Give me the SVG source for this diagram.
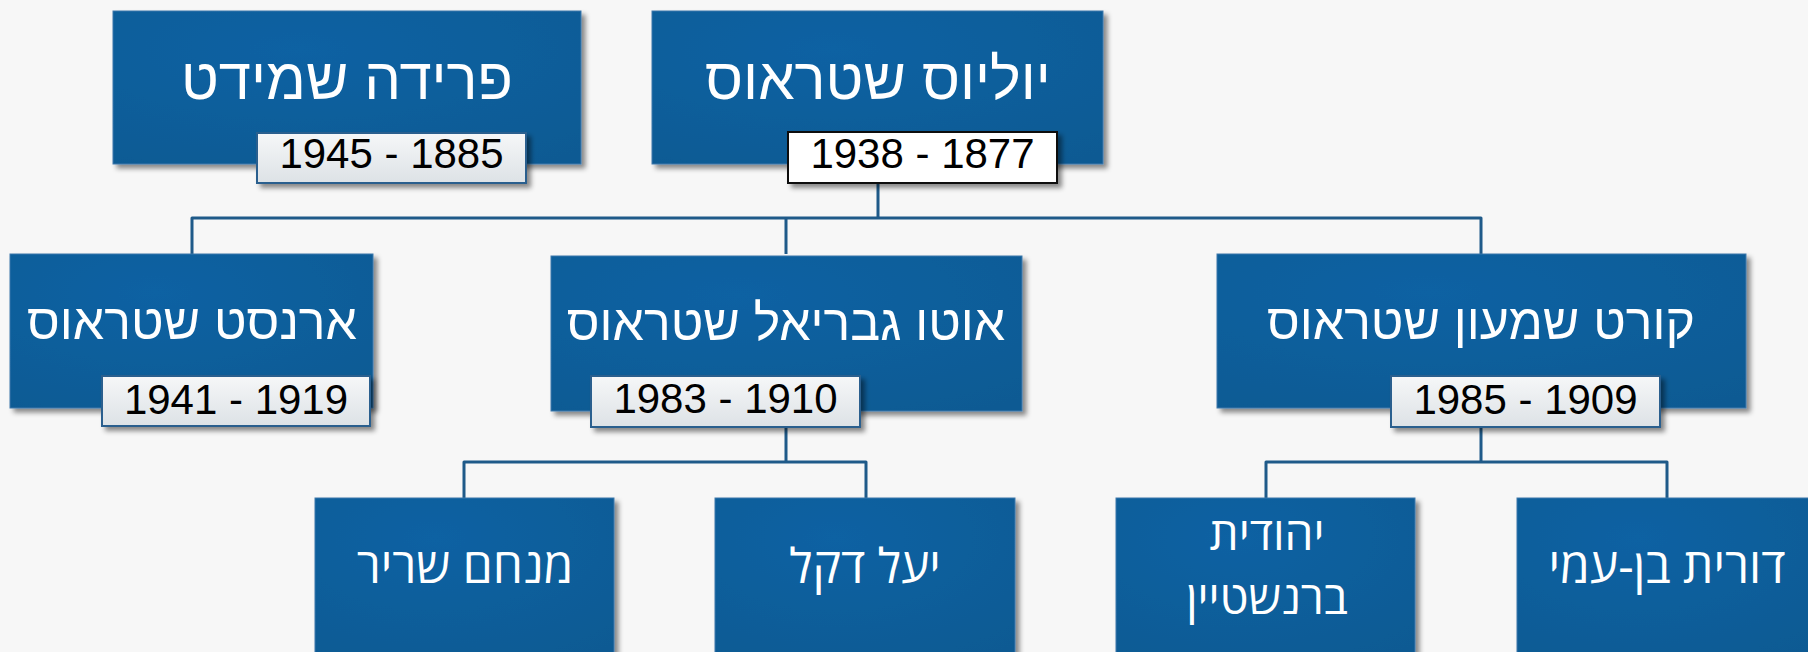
<svg xmlns="http://www.w3.org/2000/svg" width="1808" height="652" viewBox="0 0 1808 652">
  <defs>
    <radialGradient id="boxFill" cx="0.4" cy="0.25" r="0.9">
      <stop offset="0" stop-color="#0b62a3"/>
      <stop offset="1" stop-color="#0f5a93"/>
    </radialGradient>
    <linearGradient id="dateFill" x1="0" y1="0" x2="0" y2="1">
      <stop offset="0" stop-color="#f6f7f8"/>
      <stop offset="1" stop-color="#dde2e6"/>
    </linearGradient>
    <filter id="shadow" x="-10%" y="-10%" width="125%" height="135%">
      <feDropShadow dx="4" dy="4" stdDeviation="2.5" flood-color="#000" flood-opacity="0.45"/>
    </filter>
    <style>
      .box { fill: url(#boxFill); stroke: #3c78ab; stroke-width: 1; filter: url(#shadow); }
      .date { fill: url(#dateFill); stroke: #2b5f8e; stroke-width: 2; filter: url(#shadow); }
      .date-root { fill: #ffffff; stroke: #111111; stroke-width: 2; filter: url(#shadow); }
      .name { font-family: "Liberation Sans", Arial, sans-serif; font-size: 58px; fill: #ffffff; text-anchor: middle; direction: rtl; }
      .name-mid { font-family: "Liberation Sans", Arial, sans-serif; font-size: 50px; fill: #ffffff; text-anchor: middle; direction: rtl; }
      .name2 { font-family: "Open Sans", "Noto Sans", "DejaVu Sans", sans-serif; font-size: 48px; fill: #ffffff; text-anchor: middle; direction: rtl; }
      .two-line { font-size: 46px; }
      .years { font-family: "Liberation Sans", Arial, sans-serif; font-size: 42px; fill: #000000; text-anchor: middle; }
      .link { fill: none; stroke: #1f5a89; stroke-width: 3; stroke-linejoin: round; }
    </style>
  </defs>

  <rect width="1808" height="652" fill="#f7f7f7"/>

  <!-- connectors -->
  <g id="connectors">
    <path class="link" d="M878 183 V218 M192 254 V218 H1481 V254 M786 218 V254"/>
    <path class="link" d="M786 427 V462 M464 498 V462 H866 V498"/>
    <path class="link" d="M1481 427 V462 M1266 498 V462 H1667 V498"/>
  </g>

  <!-- generation 1 -->
  <g id="frieda">
    <rect class="box" x="113" y="11" width="468" height="153"/>
    <text class="name" x="347" y="99">פרידה שמידט</text>
    <rect class="date" x="257" y="133" width="269" height="50"/>
    <text class="years" x="391.5" y="168">1945 - 1885</text>
  </g>
  <g id="julius">
    <rect class="box" x="652" y="11" width="451" height="153"/>
    <text class="name" x="878" y="99">יוליוס שטראוס</text>
    <rect class="date-root" x="788" y="132" width="269" height="51"/>
    <text class="years" x="922.5" y="168">1938 - 1877</text>
  </g>

  <!-- generation 2 -->
  <g id="ernst">
    <rect class="box" x="10" y="254" width="363" height="154"/>
    <text class="name-mid" x="192" y="339">ארנסט שטראוס</text>
    <rect class="date" x="102" y="376" width="268" height="50"/>
    <text class="years" x="236" y="414">1941 - 1919</text>
  </g>
  <g id="otto">
    <rect class="box" x="551" y="256" width="471" height="155"/>
    <text class="name-mid" x="786" y="340">אוטו גבריאל שטראוס</text>
    <rect class="date" x="591" y="376" width="269" height="51"/>
    <text class="years" x="725.5" y="413">1983 - 1910</text>
  </g>
  <g id="kurt">
    <rect class="box" x="1217" y="254" width="529" height="154"/>
    <text class="name-mid" x="1481" y="339">קורט שמעון שטראוס</text>
    <rect class="date" x="1391" y="376" width="269" height="51"/>
    <text class="years" x="1525.5" y="414">1985 - 1909</text>
  </g>

  <!-- generation 3 -->
  <g id="menachem">
    <rect class="box" x="315" y="498" width="299" height="160"/>
    <text class="name2" x="465" y="583">מנחם שריר</text>
  </g>
  <g id="yael">
    <rect class="box" x="715" y="498" width="300" height="160"/>
    <text class="name2" x="865" y="583">יעל דקל</text>
  </g>
  <g id="yehudit">
    <rect class="box" x="1116" y="498" width="299" height="160"/>
    <text class="name2 two-line" x="1267" y="550">יהודית</text>
    <text class="name2 two-line" x="1267" y="614">ברנשטיין</text>
  </g>
  <g id="dorit">
    <rect class="box" x="1517" y="498" width="300" height="160"/>
    <text class="name2" x="1667" y="583">דורית בן-עמי</text>
  </g>
</svg>
